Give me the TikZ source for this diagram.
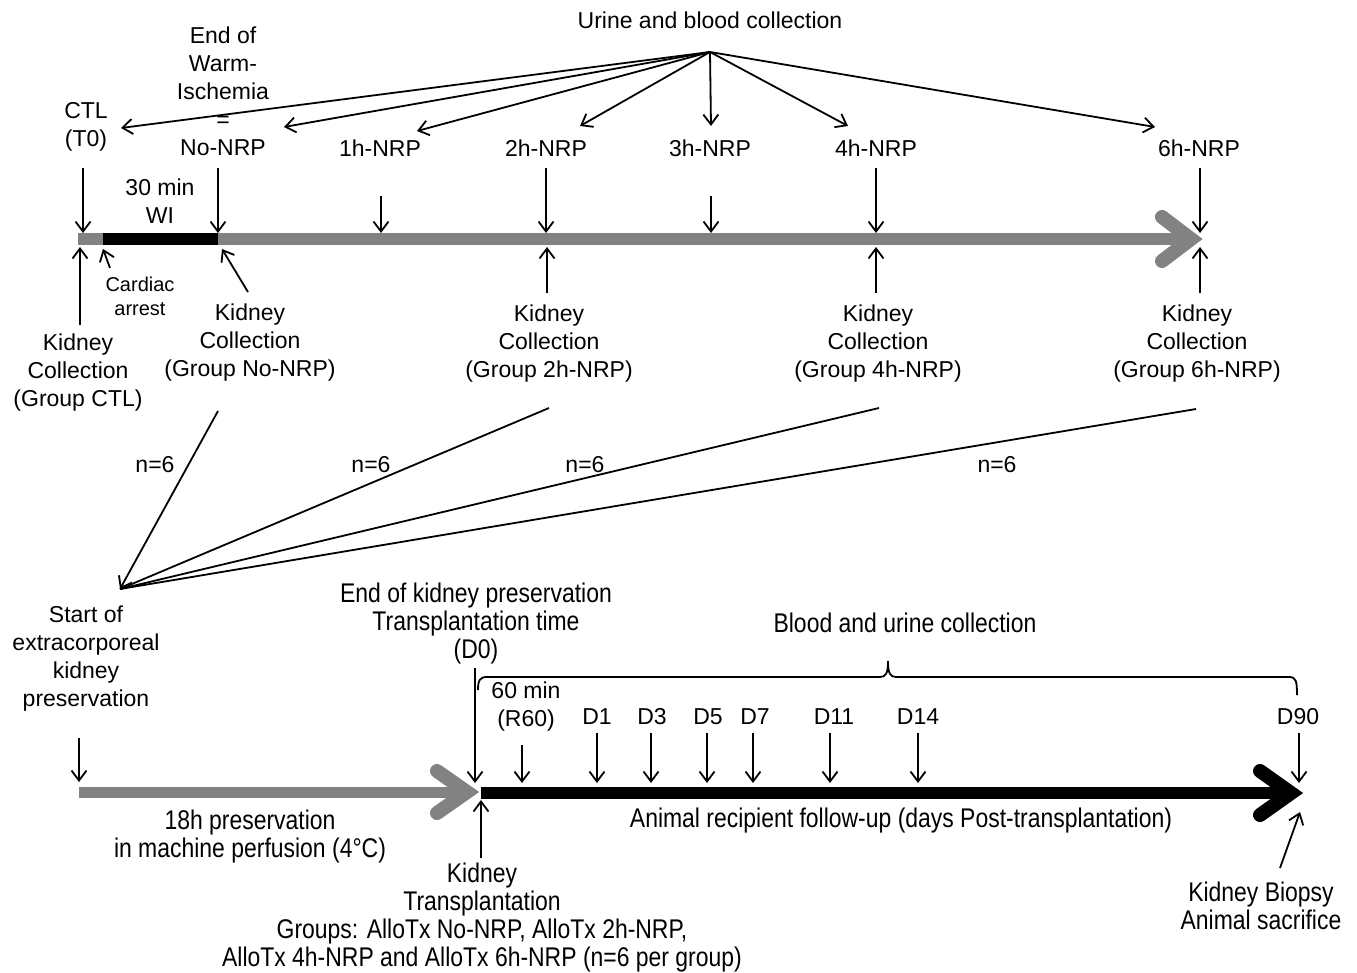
\documentclass[tikz,border=0pt]{standalone}
\usepackage{fontspec}
\setmainfont{Liberation Sans}
\newfontfamily\condfont{Liberation Sans}[FakeStretch=0.85]
\usetikzlibrary{arrows.meta}
\definecolor{bargray}{RGB}{130,130,130}
\tikzset{
  every node/.style={inner sep=0pt, align=center, font=\fontsize{23}{28}\selectfont},
  cnd/.style={font=\condfont\fontsize{27}{28}\selectfont},
  smalltxt/.style={font=\fontsize{20}{24}\selectfont},
  arr/.style={line width=1.8pt, -{Straight Barb[length=10pt,width=15pt]}},
  ln/.style={line width=1.8pt},
  gbar/.style={draw=bargray},
  chev/.style={line width=14pt, line cap=round, line join=miter},
}
\begin{document}
\begin{tikzpicture}[x=1pt,y=-1pt]
\useasboundingbox (0,0) rectangle (1357,972);

% ---------- top labels ----------
\node (ubc) at (710,20) {Urine and blood collection};
\coordinate (fan) at (710,52);
\node (ctl) at (86,127) {CTL\\(T0)};
\node (ewi) at (223,91) {End of\\Warm-\\Ischemia\\=\\No-NRP};
\node (h1) at (380,148) {1h-NRP};
\node (h2) at (546,148) {2h-NRP};
\node (h3) at (710,148) {3h-NRP};
\node (h4) at (876,148) {4h-NRP};
\node (h6) at (1199,148) {6h-NRP};

\coordinate (f0) at (121,128);
\coordinate (f1) at (284,127);
\coordinate (f2) at (417,131);
\coordinate (f3) at (580,126);
\coordinate (f4) at (711,126);
\coordinate (f5) at (848,126);
\coordinate (f6) at (1155,127);
\foreach \t in {f0,f1,f2,f3,f4,f5,f6} \draw[arr] (fan) -- (\t);

% ---------- top timeline ----------
\coordinate (tb0) at (78,239);
\coordinate (tb1) at (1192,239);
\coordinate (wi0) at (103,239);
\coordinate (wi1) at (218,239);
\draw[gbar, line width=12pt] (tb0) -- (tb1);
\draw[line width=12pt] (wi0) -- (wi1);
\coordinate (ch1) at (1162,217);
\coordinate (ch2) at (1191,239);
\coordinate (ch3) at (1162,261);
\draw[chev, draw=bargray] (ch1) -- (ch2) -- (ch3);

\node (wi) at (160,201) {30 min\\WI};

% down arrows to top timeline
\foreach \x/\ys [count=\i] in {83/168,218/168,381/196,546/168,711/196,876/168,1200/168}{
  \coordinate (da\i) at (\x,\ys);
  \coordinate (db\i) at (\x,233);
  \draw[arr] (da\i) -- (db\i);
}

% up arrows from below
\coordinate (u0a) at (80,325);   \coordinate (u0b) at (80,247);
\coordinate (caa) at (110,268);  \coordinate (cab) at (103,249);
\coordinate (u1a) at (248,292);  \coordinate (u1b) at (222,249);
\coordinate (u2a) at (547,293);  \coordinate (u2b) at (547,247);
\coordinate (u4a) at (876,293);  \coordinate (u4b) at (876,247);
\coordinate (u6a) at (1200,293); \coordinate (u6b) at (1200,247);
\foreach \p in {u0,ca,u1,u2,u4,u6} \draw[arr] (\p a) -- (\p b);

\node[smalltxt] (card) at (140,296) {Cardiac\\arrest};
\node (kc0) at (78,373) {Kidney\\Collection\\(Group CTL)};
\node (kc1) at (250,343) {Kidney\\Collection\\(Group No-NRP)};
\node (kc2) at (549,344) {Kidney\\Collection\\(Group 2h-NRP)};
\node (kc4) at (878,344) {Kidney\\Collection\\(Group 4h-NRP)};
\node (kc6) at (1197,344) {Kidney\\Collection\\(Group 6h-NRP)};

% converging lines
\coordinate (conv) at (120,589);
\coordinate (l1) at (218,411);
\coordinate (l2) at (549,408);
\coordinate (l4) at (879,408);
\coordinate (l6) at (1196,409);
\draw[ln] (l2) -- (conv);
\draw[ln] (l4) -- (conv);
\draw[ln] (l6) -- (conv);
\draw[arr] (l1) -- (conv);

\node (n1) at (155,465) {n=6};
\node (n2) at (371,465) {n=6};
\node (n3) at (585,465) {n=6};
\node (n4) at (997,465) {n=6};

% ---------- bottom part ----------
\node (start) at (86,659) {Start of\\extracorporeal\\kidney\\preservation};
\coordinate (sa) at (79,738); \coordinate (sb) at (79,782);
\draw[arr] (sa) -- (sb);

\coordinate (gb0) at (79,792);
\coordinate (gb1) at (468,792);
\draw[gbar, line width=11pt] (gb0) -- (gb1);
\coordinate (gc1) at (437,771);
\coordinate (gc2) at (467,792);
\coordinate (gc3) at (437,813);
\draw[chev, draw=bargray] (gc1) -- (gc2) -- (gc3);

\coordinate (bb0) at (481,793);
\coordinate (bb1) at (1292,793);
\draw[line width=12pt] (bb0) -- (bb1);
\coordinate (bc1) at (1260,771);
\coordinate (bc2) at (1291,793);
\coordinate (bc3) at (1260,815);
\draw[chev] (bc1) -- (bc2) -- (bc3);

\node[cnd] (eokp) at (476,624) {End of kidney preservation\\Transplantation time\\(D0)};
\node[cnd] (buc) at (905,623) {Blood and urine collection};

% brace
\draw[ln] (478,690) .. controls (478,680) and (480,677) .. (487,677) -- (880,677)
  .. controls (886,677) and (888,673) .. (888,661)
  .. controls (888,673) and (890,677) .. (896,677) -- (1289,677)
  .. controls (1296,677) and (1297,681) .. (1297,695);

\node (r60) at (526,707) {60 min\\(R60)};
\node (d1) at (597,717) {D1};
\node (d3) at (652,717) {D3};
\node (d5) at (708,717) {D5};
\node (d7) at (755,717) {D7};
\node (d11) at (834,717) {D11};
\node (d14) at (918,717) {D14};
\node (d90) at (1298,717) {D90};

\foreach \x/\ys [count=\i] in {475/668,522/745,597/733,651/733,707/733,753/733,830/733,918/733,1299/733}{
  \coordinate (ea\i) at (\x,\ys);
  \coordinate (eb\i) at (\x,783);
  \draw[arr] (ea\i) -- (eb\i);
}

\node[cnd] (pres) at (250,837) {18h preservation\\in machine perfusion (4°C)};
\node[cnd] (foll) at (901,821) {Animal recipient follow-up (days Post-transplantation)};

\coordinate (kta) at (481,858); \coordinate (ktb) at (481,800);
\draw[arr] (kta) -- (ktb);
\node[cnd] (ktx) at (482,918) {Kidney\\Transplantation\\Groups: AlloTx No-NRP, AlloTx 2h-NRP,\\AlloTx 4h-NRP and AlloTx 6h-NRP (n=6 per group)};

\coordinate (kba) at (1280,868); \coordinate (kbb) at (1300,812);
\draw[arr] (kba) -- (kbb);
\node[cnd] (kbx) at (1261,906) {Kidney Biopsy\\Animal sacrifice};
\end{tikzpicture}
\end{document}
